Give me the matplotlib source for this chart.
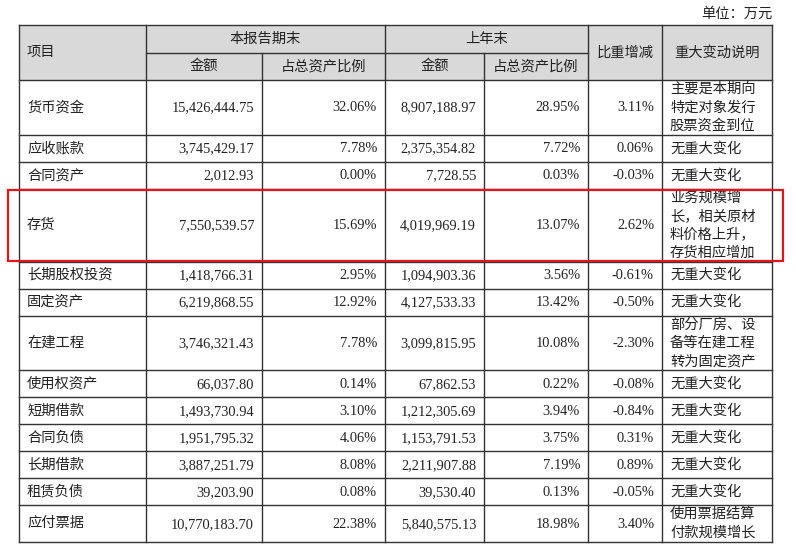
import matplotlib.pyplot as plt
from matplotlib.patches import Rectangle

plt.rcParams['font.family'] = ['Liberation Serif', 'Noto Sans CJK SC', 'DejaVu Sans']

items = ["货币资金", "应收账款", "合同资产", "存货", "长期股权投资", "固定资产",
         "在建工程", "使用权资产", "短期借款", "合同负债", "长期借款", "租赁负债", "应付票据"]
cur_amount = ["15,426,444.75", "3,745,429.17", "2,012.93", "7,550,539.57", "1,418,766.31",
              "6,219,868.55", "3,746,321.43", "66,037.80", "1,493,730.94", "1,951,795.32",
              "3,887,251.79", "39,203.90", "10,770,183.70"]
cur_ratio = ["32.06%", "7.78%", "0.00%", "15.69%", "2.95%", "12.92%", "7.78%",
             "0.14%", "3.10%", "4.06%", "8.08%", "0.08%", "22.38%"]
prev_amount = ["8,907,188.97", "2,375,354.82", "7,728.55", "4,019,969.19", "1,094,903.36",
               "4,127,533.33", "3,099,815.95", "67,862.53", "1,212,305.69", "1,153,791.53",
               "2,211,907.88", "39,530.40", "5,840,575.13"]
prev_ratio = ["28.95%", "7.72%", "0.03%", "13.07%", "3.56%", "13.42%", "10.08%",
              "0.22%", "3.94%", "3.75%", "7.19%", "0.13%", "18.98%"]
change = ["3.11%", "0.06%", "-0.03%", "2.62%", "-0.61%", "-0.50%", "-2.30%",
          "-0.08%", "-0.84%", "0.31%", "0.89%", "-0.05%", "3.40%"]
notes = [["主要是本期向", "特定对象发行", "股票资金到位"],
         ["无重大变化"], ["无重大变化"],
         ["业务规模增", "长，相关原材", "料价格上升，", "存货相应增加"],
         ["无重大变化"], ["无重大变化"],
         ["部分厂房、设", "备等在建工程", "转为固定资产"],
         ["无重大变化"], ["无重大变化"], ["无重大变化"], ["无重大变化"], ["无重大变化"],
         ["使用票据结算", "付款规模增长"]]
highlight = "存货"

# layout (pixels)
W, H = 796, 557
cols = [19, 146, 262, 385, 484, 588, 662, 772]
top, mid, head_bot = 25, 53, 80
line_gap = 18.4
txt = '#222222'
grid = '#333333'

fig = plt.figure(figsize=(W / 100, H / 100), dpi=100)
ax = fig.add_axes([0, 0, 1, 1])
ax.set_xlim(0, W)
ax.set_ylim(H, 0)
ax.axis('off')

# row heights from number of note lines
heights = [27 if len(n) == 1 else 18.8 + 18 * (len(n) - 1) for n in notes]
ys = [head_bot]
for h in heights:
    ys.append(ys[-1] + h)
bottom = ys[-1]

# header background
ax.add_patch(Rectangle((cols[0], top), cols[-1] - cols[0], head_bot - top,
                       facecolor='#d9d9d9', edgecolor='none', zorder=0))

# grid lines
lw = 1.0
for y in ys:
    ax.plot([cols[0], cols[-1]], [y, y], color=grid, lw=lw)
ax.plot([cols[0], cols[-1]], [top, top], color=grid, lw=lw)
ax.plot([cols[1], cols[5]], [mid, mid], color=grid, lw=lw)
for i, x in enumerate(cols):
    if i in (2, 4):
        ax.plot([x, x], [mid, bottom], color=grid, lw=lw)
    else:
        ax.plot([x, x], [top, bottom], color=grid, lw=lw)

fs_cn, fs_num = 10.3, 10.4
# header text
ax.text(cols[0] + 8, (top + head_bot) / 2, "项目", fontsize=fs_cn, color=txt, va='center')
ax.text((cols[1] + cols[3]) / 2, (top + mid) / 2, "本报告期末", fontsize=fs_cn, color=txt,
        ha='center', va='center')
ax.text((cols[3] + cols[5]) / 2, (top + mid) / 2, "上年末", fontsize=fs_cn, color=txt,
        ha='center', va='center')
for c in (1, 3):
    ax.text((cols[c] + cols[c + 1]) / 2, (mid + head_bot) / 2, "金额", fontsize=fs_cn,
            color=txt, ha='center', va='center')
    ax.text((cols[c + 1] + cols[c + 2]) / 2, (mid + head_bot) / 2, "占总资产比例",
            fontsize=fs_cn, color=txt, ha='center', va='center')
ax.text((cols[5] + cols[6]) / 2, (top + head_bot) / 2, "比重增减", fontsize=fs_cn, color=txt,
        ha='center', va='center')
ax.text((cols[6] + cols[7]) / 2, (top + head_bot) / 2, "重大变动说明", fontsize=fs_cn,
        color=txt, ha='center', va='center')
ax.text(cols[-1], 14, "单位：万元", fontsize=fs_cn, color=txt, ha='right', va='center')

# body
for i, name in enumerate(items):
    yc = (ys[i] + ys[i + 1]) / 2
    ax.text(cols[0] + 8, yc, name, fontsize=fs_cn, color=txt, va='center')
    vals = [cur_amount[i], cur_ratio[i], prev_amount[i], prev_ratio[i], change[i]]
    for j, v in enumerate(vals):
        ax.text(cols[j + 2] - 8, yc + 0.5, v, fontsize=fs_num, color=txt, ha='right',
                va='center')
    n = len(notes[i])
    for k, line in enumerate(notes[i]):
        ax.text(cols[6] + 8, yc + (k - (n - 1) / 2) * line_gap, line, fontsize=fs_cn,
                color=txt, va='center')
    if name == highlight:
        ax.add_patch(Rectangle((8, ys[i] + 1.5), 783 - 8, heights[i] - 2.5, fill=False,
                               edgecolor='#e8141b', lw=1.6, zorder=5))

fig.savefig("out.png", dpi=100)
